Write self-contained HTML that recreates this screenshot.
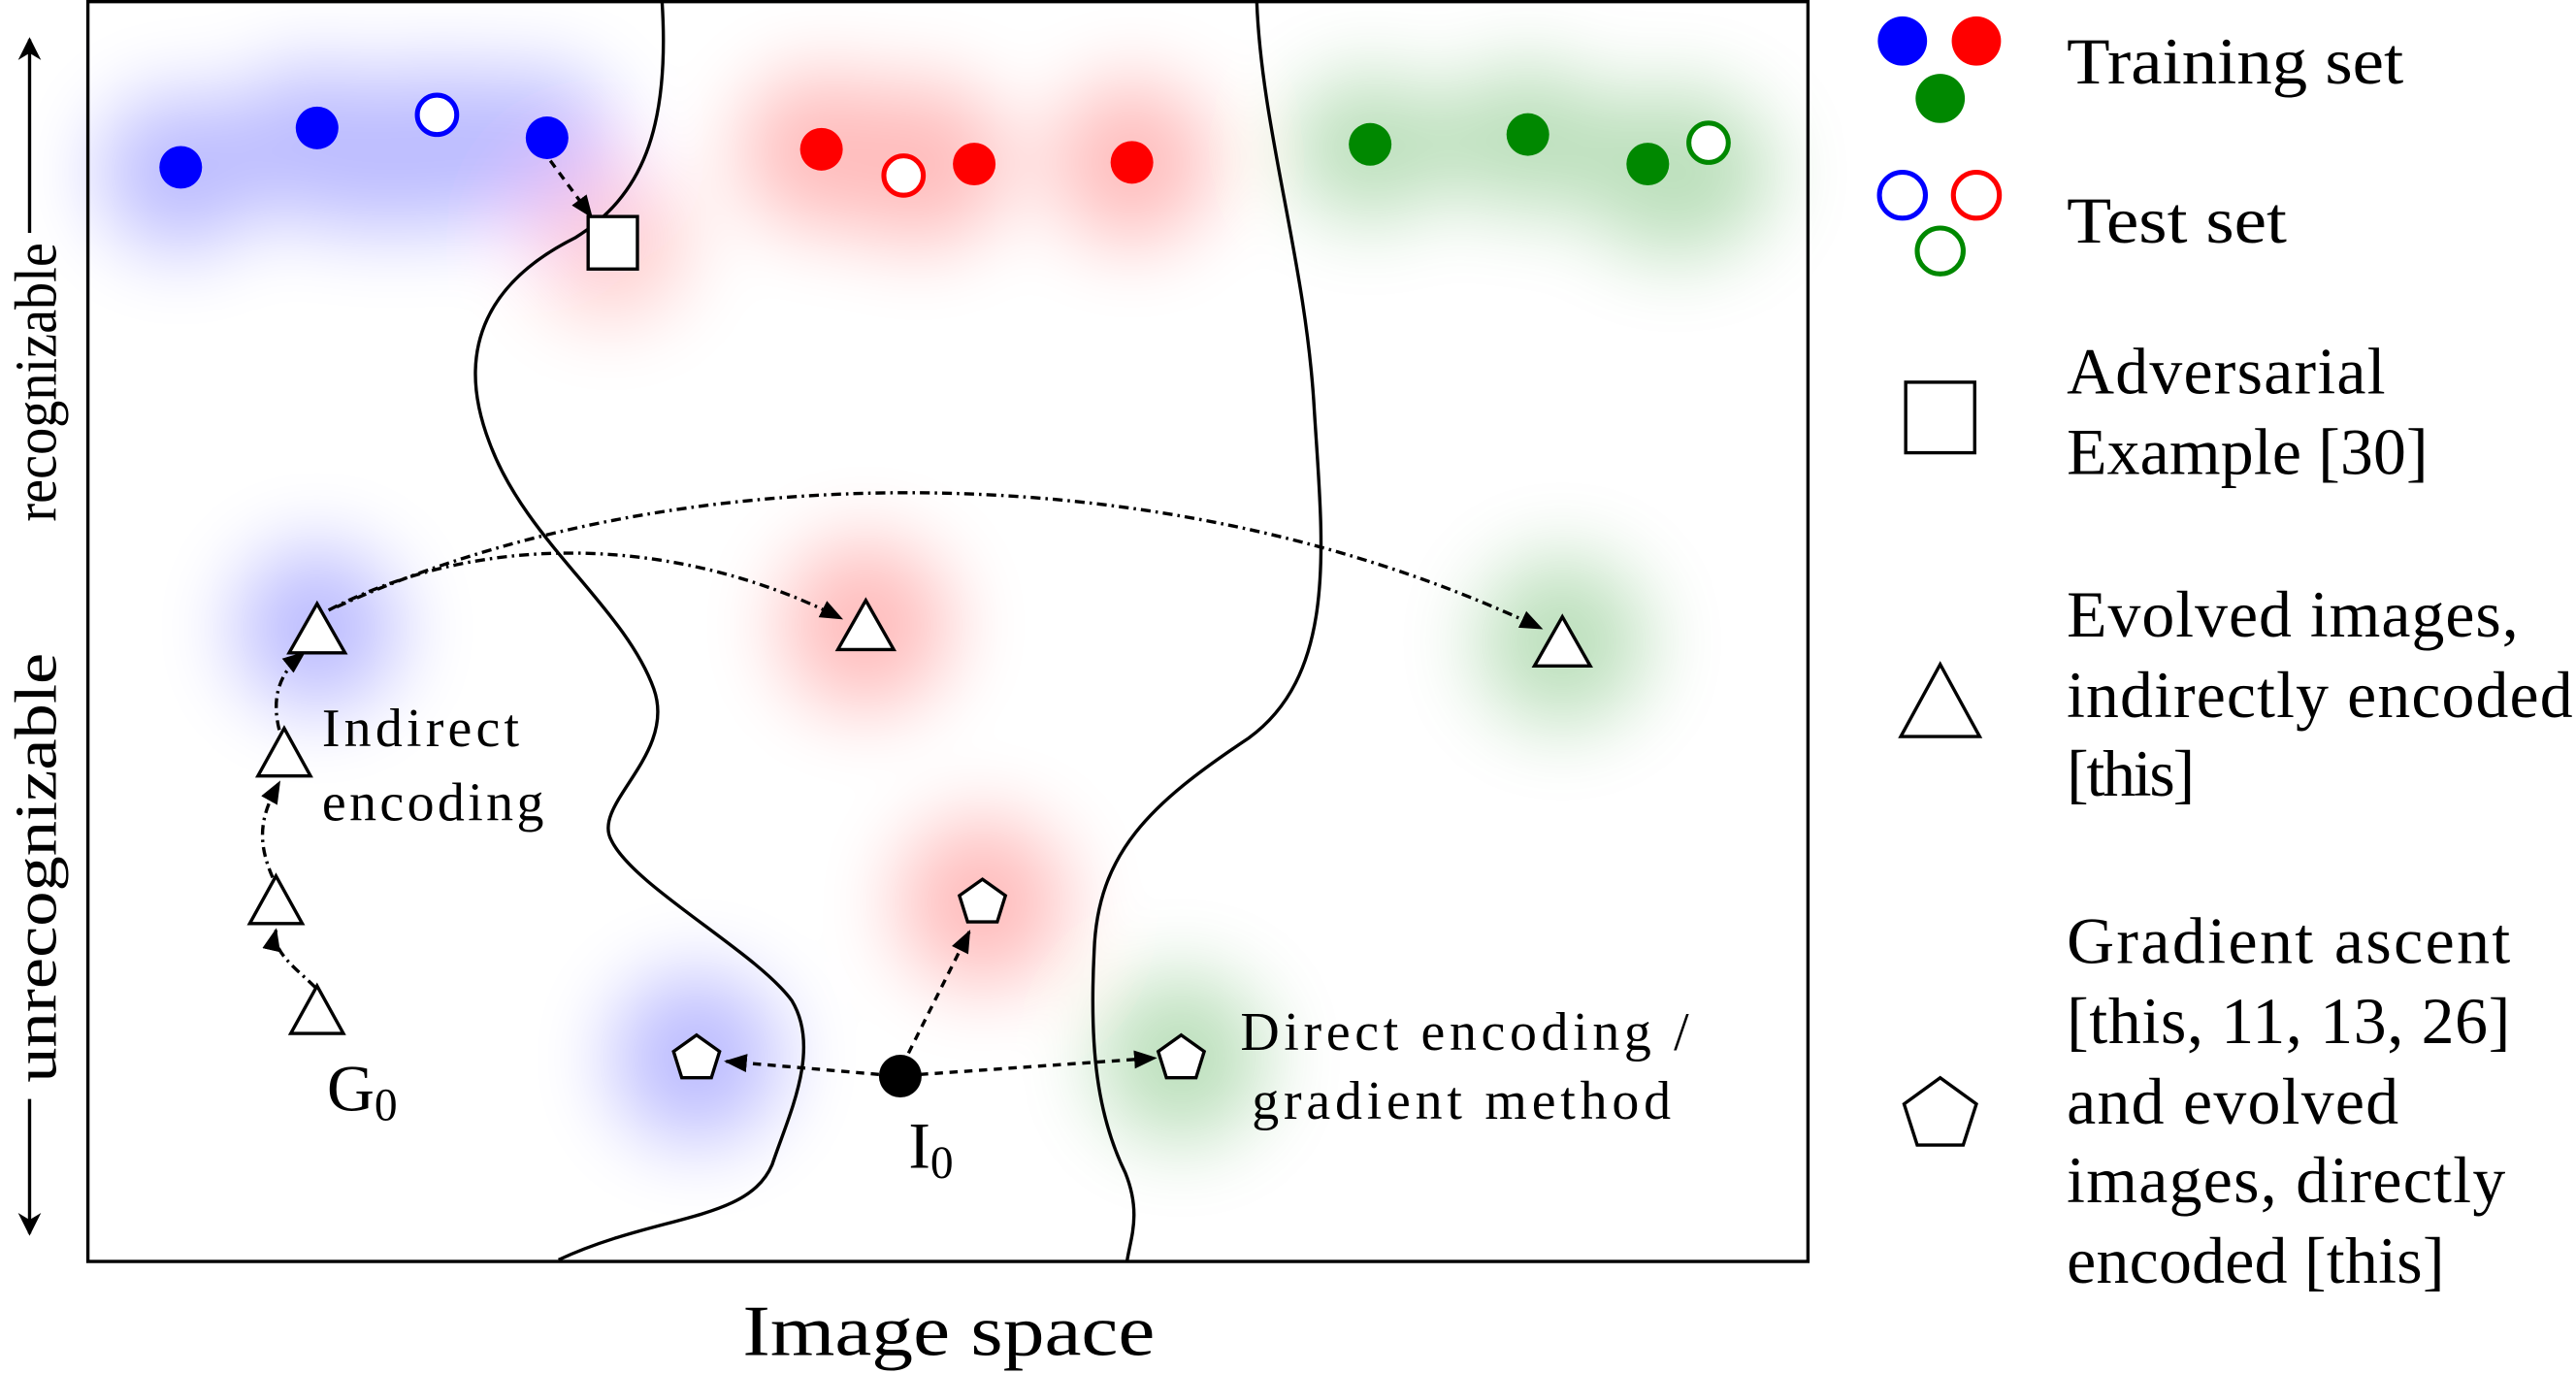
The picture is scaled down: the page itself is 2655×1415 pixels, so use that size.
<!DOCTYPE html>
<html><head><meta charset="utf-8"><style>
html,body{margin:0;padding:0;background:#fff}
svg{display:block}
text{font-family:"Liberation Serif",serif;fill:#000}
</style></head><body>
<svg width="2655" height="1415" viewBox="0 0 1568 837" preserveAspectRatio="none" xmlns="http://www.w3.org/2000/svg">
<defs>
<filter id="blur" x="-50%" y="-50%" width="200%" height="200%"><feGaussianBlur stdDeviation="24"/></filter>
<marker id="ah" viewBox="0 0 10 10" refX="9" refY="5" markerWidth="7" markerHeight="7" orient="auto"><path d="M0,1 L10,5 L0,9 z" fill="#000"/></marker>
<marker id="big" viewBox="0 0 10 10" refX="9" refY="5" markerWidth="14" markerHeight="14" orient="auto" markerUnits="userSpaceOnUse"><path d="M0,0 L10,5 L0,10 L3,5 z" fill="#000"/></marker>
</defs>
<g filter="url(#blur)" opacity="0.26">
<ellipse cx="110" cy="105" rx="50" ry="48" fill="#00f"/>
<ellipse cx="193" cy="85" rx="55" ry="45" fill="#00f"/>
<ellipse cx="266" cy="90" rx="55" ry="50" fill="#00f"/>
<ellipse cx="325" cy="90" rx="50" ry="48" fill="#00f"/>
<ellipse cx="230" cy="110" rx="80" ry="30" fill="#00f"/>
<circle cx="372" cy="148" r="48" fill="#f00" opacity="0.7"/>
<ellipse cx="500" cy="92" rx="50" ry="48" fill="#f00"/>
<ellipse cx="560" cy="100" rx="55" ry="50" fill="#f00"/>
<ellipse cx="689" cy="99" rx="50" ry="50" fill="#f00"/>
<ellipse cx="834" cy="90" rx="50" ry="45" fill="#080"/>
<ellipse cx="930" cy="85" rx="55" ry="45" fill="#080"/>
<ellipse cx="1020" cy="105" rx="60" ry="52" fill="#080"/>
<circle cx="193" cy="383" r="50" fill="#00f"/>
<circle cx="527" cy="381" r="52" fill="#f00"/>
<circle cx="951" cy="391" r="52" fill="#080"/>
<circle cx="598" cy="550" r="52" fill="#f00"/>
<circle cx="424" cy="645" r="52" fill="#00f"/>
<circle cx="719" cy="645" r="52" fill="#080"/>
</g>
<rect x="53.5" y="1" width="1047" height="768" fill="none" stroke="#000" stroke-width="2"/>
<path d="M403,1 C408,80 390,120 350,145 C300,170 275,210 298,270 C320,330 380,370 398,420 C412,460 360,490 372,512 C385,540 460,580 482,610 C500,640 480,680 470,710 C455,745 400,740 340,768" fill="none" stroke="#000" stroke-width="2"/>
<path d="M765,1 C768,80 795,160 800,250 C805,330 815,410 760,450 C700,490 668,520 666,580 C663,640 668,680 685,715 C695,740 688,755 686,769" fill="none" stroke="#000" stroke-width="2"/>
<g>
<circle cx="110" cy="102" r="13" fill="#00f"/><circle cx="193" cy="78" r="13" fill="#00f"/><circle cx="333" cy="84" r="13" fill="#00f"/>
<circle cx="500" cy="91" r="13" fill="#f00"/><circle cx="593" cy="100" r="13" fill="#f00"/><circle cx="689" cy="99" r="13" fill="#f00"/>
<circle cx="834" cy="88" r="13" fill="#080"/><circle cx="930" cy="82" r="13" fill="#080"/><circle cx="1003" cy="100" r="13" fill="#080"/>
</g>
<g fill="#fff" stroke-width="3">
<circle cx="266" cy="70" r="12" stroke="#00f"/><circle cx="550" cy="107" r="12" stroke="#f00"/><circle cx="1040" cy="87" r="12" stroke="#080"/>
</g>
<line x1="335" y1="98" x2="360" y2="132" stroke="#000" stroke-width="2" stroke-dasharray="5,4" marker-end="url(#ah)"/>
<rect x="358" y="132" width="30" height="32" fill="#fff" stroke="#000" stroke-width="2"/>
<g fill="none" stroke="#000" stroke-width="2" stroke-dasharray="6,3,1.5,3">
<path d="M200,372 C300,320 420,330 512,377" marker-end="url(#ah)"/>
<path d="M205,370 C400,280 700,270 938,383" marker-end="url(#ah)"/>
<path d="M192,602 C180,590 165,580 168,567" marker-end="url(#ah)"/>
<path d="M166,535 C155,510 160,495 170,477" marker-end="url(#ah)"/>
<path d="M170,445 C165,425 170,410 185,398" marker-end="url(#ah)"/>
</g>
<g fill="none" stroke="#000" stroke-width="2" stroke-dasharray="5,4">
<line x1="535" y1="655" x2="442" y2="647" marker-end="url(#ah)"/>
<line x1="560" y1="655" x2="703" y2="645" marker-end="url(#ah)"/>
<line x1="553" y1="642" x2="590" y2="568" marker-end="url(#ah)"/>
</g>
<g fill="#fff" stroke="#000" stroke-width="2">
<path d="M193,368 L210,398 L176,398 Z"/><path d="M527,366 L544,396 L510,396 Z"/><path d="M951,376 L968,406 L934,406 Z"/>
<path d="M173,444 L189,473 L157,473 Z"/><path d="M168,534 L184,563 L152,563 Z"/><path d="M193,601 L209,630 L177,630 Z"/>
</g>
<g fill="#fff" stroke="#000" stroke-width="2">
<path d="M598,536 L612,546 L607,562 L589,562 L584,546 Z"/>
<path d="M424,631 L438,641 L433,657 L415,657 L410,641 Z"/>
<path d="M719,631 L733,641 L728,657 L710,657 L705,641 Z"/>
</g>
<circle cx="548" cy="656" r="13" fill="#000"/>
<text x="199" y="677" font-size="40">G<tspan font-size="28" dy="6">0</tspan></text>
<text x="553" y="712" font-size="40">I<tspan font-size="28" dy="6">0</tspan></text>
<text font-size="33" lengthAdjust="spacingAndGlyphs"><tspan x="196" y="455" textLength="120">Indirect</tspan><tspan x="196" y="500" textLength="135">encoding</tspan></text>
<text font-size="33" lengthAdjust="spacingAndGlyphs"><tspan x="755" y="640" textLength="273">Direct encoding /</tspan><tspan x="762" y="682" textLength="255">gradient method</tspan></text>
<text x="452" y="826" font-size="44" textLength="251" lengthAdjust="spacingAndGlyphs">Image space</text>
<g>
<text transform="translate(34,318) rotate(-90)" font-size="36" textLength="170" lengthAdjust="spacingAndGlyphs">recognizable</text>
<text transform="translate(34,660) rotate(-90)" font-size="36" textLength="262" lengthAdjust="spacingAndGlyphs">unrecognizable</text>
<line x1="18" y1="142" x2="18" y2="24" stroke="#000" stroke-width="2" marker-end="url(#big)"/>
<line x1="18" y1="670" x2="18" y2="752" stroke="#000" stroke-width="2" marker-end="url(#big)"/>
</g>
<g>
<g>
<circle cx="1158" cy="25" r="15" fill="#00f"/><circle cx="1203" cy="25" r="15" fill="#f00"/><circle cx="1181" cy="60" r="15" fill="#080"/>
<text x="1258" y="51" font-size="40" textLength="205" lengthAdjust="spacingAndGlyphs">Training set</text></g>
<g fill="#fff" stroke-width="3">
<circle cx="1158" cy="119" r="14" stroke="#00f"/><circle cx="1203" cy="119" r="14" stroke="#f00"/><circle cx="1181" cy="153" r="14" stroke="#080"/>
<text x="1258" y="148" font-size="40" stroke="none" fill="#000" textLength="134" lengthAdjust="spacingAndGlyphs">Test set</text></g>
<g>
<rect x="1160" y="233" width="42" height="43" fill="#fff" stroke="#000" stroke-width="2"/>
<text font-size="40" lengthAdjust="spacingAndGlyphs"><tspan x="1258" y="240" textLength="194">Adversarial</tspan><tspan x="1258" y="289" textLength="220">Example [30]</tspan></text></g>
<g>
<path d="M1181,405 L1205,449 L1157,449 Z" fill="#fff" stroke="#000" stroke-width="2"/>
<text font-size="40" lengthAdjust="spacingAndGlyphs"><tspan x="1258" y="388" textLength="275">Evolved images,</tspan><tspan x="1258" y="437" textLength="308">indirectly encoded</tspan><tspan x="1258" y="485" textLength="78">[this]</tspan></text></g>
<g>
<path d="M1181,657 L1203,673 L1195,698 L1167,698 L1159,673 Z" fill="#fff" stroke="#000" stroke-width="2"/>
<text font-size="40" lengthAdjust="spacingAndGlyphs"><tspan x="1258" y="587" textLength="270">Gradient ascent</tspan><tspan x="1258" y="636" textLength="270">[this, 11, 13, 26]</tspan><tspan x="1258" y="685" textLength="202">and evolved</tspan><tspan x="1258" y="733" textLength="267">images, directly</tspan><tspan x="1258" y="782" textLength="230">encoded [this]</tspan></text></g>
</g>
</svg>
</body></html>
